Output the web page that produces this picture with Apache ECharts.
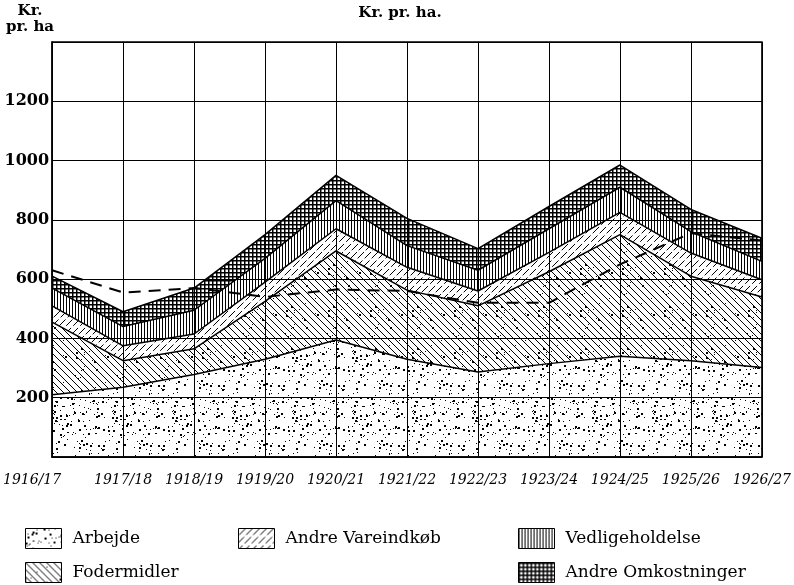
<!DOCTYPE html>
<html>
<head>
<meta charset="utf-8">
<script src="https://cdn.jsdelivr.net/npm/echarts@6/dist/echarts.min.js"></script>
<style>
html, body { margin: 0; padding: 0; background: #fff; }
#main { width: 794px; height: 585px; }
</style>
</head>
<body>
<div id="main"></div>
<script>
// data (kr. pr. ha), stacked bottom to top
var years = ['1916/17', '1917/18', '1918/19', '1919/20', '1920/21', '1921/22',
             '1922/23', '1923/24', '1924/25', '1925/26', '1926/27'];
var arbejde      = [210, 235, 278, 330, 395, 330, 287, 315, 340, 325, 302];
var fodermidler  = [245,  90,  87, 195, 300, 233, 223, 310, 410, 285, 238];
var andreVarer   = [ 55,  50,  50,  65,  75,  77,  50,  65,  75,  78,  58];
var vedlige      = [ 60,  65,  80,  80,  95,  73,  70,  80,  85,  72,  62];
var andreOmk     = [ 40,  50,  75,  80,  85,  92,  73,  75,  75,  75,  78];
// the unlabelled dashed line
var stiplet      = [630, 555, 570, 540, 565, 560, 520, 520, 650, 755, 730];
var yTicks = [200, 400, 600, 800, 1000, 1200];

var SERIF = '"DejaVu Serif", "Liberation Serif", serif';

// --- fill textures (black marks on transparent so the grid shows through)
function canvasOf(n) {
    var c = document.createElement('canvas');
    c.width = n; c.height = n;
    return c;
}
function rnd(seed) {
    var s = seed;
    return function () { s = (s * 16807) % 2147483647; return (s - 1) / 2147483646; };
}
function dots(ctx, n, count, seed) {
    var r = rnd(seed);
    ctx.fillStyle = '#000';
    for (var i = 0; i < count; i++) {
        var x = Math.floor(r() * n), y = Math.floor(r() * n);
        var s = r() < 0.3 ? 2 : 1;
        ctx.fillRect(x, y, s, s);
    }
}
function diag(ctx, n, step, dir, w) {
    ctx.strokeStyle = '#000';
    ctx.lineWidth = w;
    ctx.beginPath();
    for (var k = -n; k <= 2 * n; k += step) {
        ctx.moveTo(k, 0);
        ctx.lineTo(dir > 0 ? k - n : k + n, n);
    }
    ctx.stroke();
}
function patStipple() {
    var c = canvasOf(60), ctx = c.getContext('2d');
    dots(ctx, 60, 150, 7);
    return { image: c, repeat: 'repeat' };
}
function patBack() {
    var c = canvasOf(42), ctx = c.getContext('2d');
    diag(ctx, 42, 7, -1, 1);
    dots(ctx, 42, 25, 11);
    return { image: c, repeat: 'repeat' };
}
function patSlash() {
    var c = canvasOf(42), ctx = c.getContext('2d');
    ctx.setLineDash([9, 3]);
    diag(ctx, 42, 7, 1, 1);
    return { image: c, repeat: 'repeat' };
}
function patVertical() {
    var c = canvasOf(24), ctx = c.getContext('2d');
    ctx.fillStyle = '#000';
    for (var x = 0; x < 24; x += 3) ctx.fillRect(x, 0, 1, 24);
    return { image: c, repeat: 'repeat' };
}
function patCross() {
    var c = canvasOf(24), ctx = c.getContext('2d');
    ctx.fillStyle = '#000';
    for (var x = 0; x < 24; x += 4) {
        ctx.fillRect(x, 0, 1.5, 24);
        ctx.fillRect(0, x, 24, 1.5);
    }
    return { image: c, repeat: 'repeat' };
}

var fills = {
    'Arbejde': patStipple(),
    'Fodermidler': patBack(),
    'Andre Vareindkøb': patSlash(),
    'Vedligeholdelse': patVertical(),
    'Andre Omkostninger': patCross()
};

function areaSeries(name, values) {
    return {
        name: name,
        type: 'line',
        stack: 'kr',
        data: values,
        symbol: 'none',
        silent: true,
        lineStyle: { color: '#000', width: 1.5 },
        itemStyle: { color: '#000' },
        areaStyle: { color: fills[name], opacity: 1 },
        emphasis: { disabled: true }
    };
}

// one legend per entry so each sits where the original has it
function legendAt(name, left, top) {
    return {
        left: left, top: top,
        itemWidth: 36, itemHeight: 20,
        selectedMode: false,
        textStyle: { fontFamily: SERIF, fontSize: 17, color: '#000', padding: [0, 0, 0, 6] },
        data: [{ name: name, icon: 'rect',
                 itemStyle: { color: fills[name], borderColor: '#000', borderWidth: 1 } }]
    };
}

var chart = echarts.init(document.getElementById('main'));
chart.setOption({
    animation: false,
    backgroundColor: '#fff',
    grid: { left: 52, right: 28, top: 42, bottom: 128, show: true,
            borderColor: '#000', borderWidth: 1.5 },
    xAxis: {
        type: 'category',
        data: years,
        boundaryGap: false,
        axisLine: { lineStyle: { color: '#000', width: 1.5 } },
        axisTick: { show: false },
        splitLine: { show: true, lineStyle: { color: '#000', width: 1 } },
        axisLabel: {
            margin: 16, color: '#000', fontFamily: SERIF, fontStyle: 'italic',
            fontSize: 14, interval: 0,
            formatter: function (v, i) { return i === 0 ? '{first|' + v + '}' : v; },
            rich: { first: { fontFamily: SERIF, fontStyle: 'italic', fontSize: 14,
                             color: '#000', padding: [0, 40, 0, 0] } }
        }
    },
    yAxis: {
        type: 'value',
        min: 0, max: 1400, interval: 200,
        axisLine: { show: true, lineStyle: { color: '#000', width: 1.5 } },
        axisTick: { show: false },
        splitLine: { lineStyle: { color: '#000', width: 1 } },
        axisLabel: {
            margin: 3, color: '#000', fontFamily: SERIF, fontWeight: 'bold', fontSize: 16,
            formatter: function (v) { return yTicks.indexOf(v) >= 0 ? String(v) : ''; }
        }
    },
    legend: [
        legendAt('Arbejde', 20, 523),
        legendAt('Fodermidler', 20, 557),
        legendAt('Andre Vareindkøb', 233, 523),
        legendAt('Vedligeholdelse', 513, 523),
        legendAt('Andre Omkostninger', 513, 557)
    ],
    graphic: [
        { type: 'text', x: 400, y: 6,
          style: { text: 'Kr. pr. ha.', font: 'bold 15px ' + SERIF, fill: '#000', align: 'center' } },
        { type: 'text', x: 30, y: 3,
          style: { text: 'Kr.\npr. ha', font: 'bold 15px ' + SERIF, fill: '#000',
                   align: 'center', lineHeight: 16 } }
    ],
    series: [
        areaSeries('Arbejde', arbejde),
        areaSeries('Fodermidler', fodermidler),
        areaSeries('Andre Vareindkøb', andreVarer),
        areaSeries('Vedligeholdelse', vedlige),
        areaSeries('Andre Omkostninger', andreOmk),
        {
            name: 'Stiplet',
            type: 'line',
            data: stiplet,
            symbol: 'none',
            silent: true,
            z: 5,
            lineStyle: { color: '#000', width: 2, type: [12, 8] },
            emphasis: { disabled: true }
        }
    ]
});
</script>
</body>
</html>
